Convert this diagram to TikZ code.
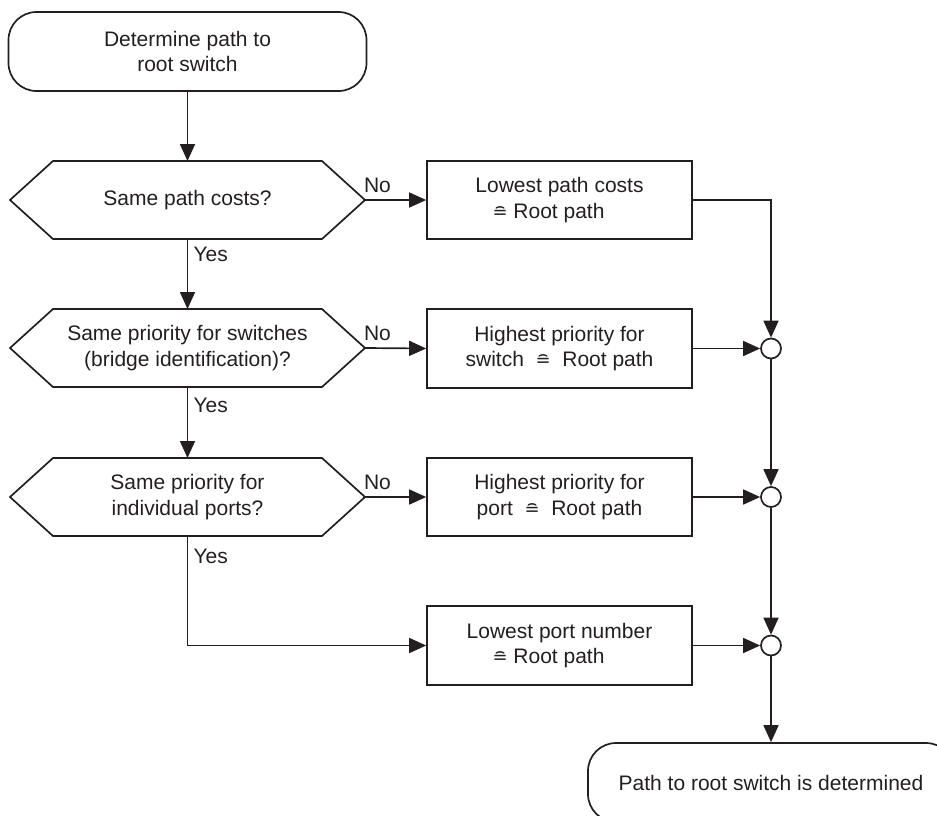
\documentclass[tikz,border=0pt]{standalone}
\usepackage{fontspec}
\setmainfont{Liberation Sans}
\newfontfamily\symfont{DejaVu Sans}
\usetikzlibrary{arrows.meta}
\definecolor{ink}{HTML}{231F20}
\newcommand{\corrsym}{{\symfont\fontsize{18}{18}\selectfont ≘}}
\begin{document}
\begin{tikzpicture}[x=1pt,y=-1pt, line width=1.7pt, color=ink,
  font=\fontsize{21}{25.5}\selectfont,
  term/.style={draw, rounded corners=28pt, align=center, minimum height=79pt, inner sep=0pt},
  proc/.style={draw, rectangle, minimum width=265pt, minimum height=78pt, align=center, inner sep=0pt},
  hexin/.style={rectangle, minimum width=269pt, minimum height=78pt, align=center, inner sep=0pt, outer sep=0pt},
  junc/.style={circle, draw, fill=white, minimum size=20pt, inner sep=0pt},
  arr/.style={-{Triangle[length=17pt,width=15pt]}},
  lbl/.style={inner sep=0pt, outer sep=0pt}]
\useasboundingbox (0,0) rectangle (937,815);
\clip (0,0) rectangle (937,815);

% terminals
\node[term, minimum width=358pt] (start) at (187.5,51.5) {Determine path to\\root switch};
\node[term, minimum width=366pt] (stop) at (771,782.5) {Path to root switch is determined};

% decisions
\node[hexin] (d1) at (187.5,200) {Same path costs?};
\node[hexin] (d2) at (187.5,348) {Same priority for switches\\(bridge identification)?};
\node[hexin] (d3) at (187.5,497) {Same priority for\\individual ports?};
\foreach \d in {d1,d2,d3}{
  \coordinate (\d r) at ([xshift=43pt]\d.east);
  \coordinate (\d l) at ([xshift=-43pt]\d.west);
  \draw (\d.north west) -- (\d.north east) -- (\d r) -- (\d.south east)
        -- (\d.south west) -- (\d l) -- cycle;
}

% process boxes
\node[proc] (b1) at (559.5,200) {Lowest path costs\\\corrsym{} Root path\hspace*{22pt}};
\node[proc, minimum height=79pt] (b2) at (559.5,348.5) {Highest priority for\\switch \ \corrsym\ \ Root path};
\node[proc] (b3) at (559.5,497) {Highest priority for\\port \ \corrsym\ \ Root path};
\node[proc, minimum height=79pt] (b4) at (559.5,645.5) {Lowest port number\\\corrsym{} Root path\hspace*{22pt}};

% junctions
\node[junc] (j1) at (771,348.5) {};
\node[junc] (j2) at (771,497) {};
\node[junc] (j3) at (771,645.5) {};

% connectors
\draw[arr] (start.south) -- (d1.north);
\draw[arr] (d1r) -- (b1.west);
\draw[arr] (d1.south) -- (d2.north);
\draw[arr] (d2r) -- (b2.west);
\draw[arr] (d2.south) -- (d3.north);
\draw[arr] (d3r) -- (b3.west);
\draw[arr] (d3.south) |- (b4.west);
\draw[arr] (b1.east) -| (j1.north);
\draw[arr] (b2.east) -- (j1.west);
\draw[arr] (b3.east) -- (j2.west);
\draw[arr] (b4.east) -- (j3.west);
\draw[arr] (j1.south) -- (j2.north);
\draw[arr] (j2.south) -- (j3.north);
\draw[arr] (j3.south) -- (stop.north);

% labels
\foreach \d in {d1,d2,d3}{
  \node[lbl, anchor=base west] (\d no) at ([xshift=-1pt,yshift=8pt]\d r) {No};
}
\node[lbl, anchor=base west] (y1) at ([xshift=6pt,yshift=-22pt]d1.south) {Yes};
\node[lbl, anchor=base west] (y2) at ([xshift=6pt,yshift=-25pt]d2.south) {Yes};
\node[lbl, anchor=base west] (y3) at ([xshift=6pt,yshift=-27pt]d3.south) {Yes};
\end{tikzpicture}
\end{document}
